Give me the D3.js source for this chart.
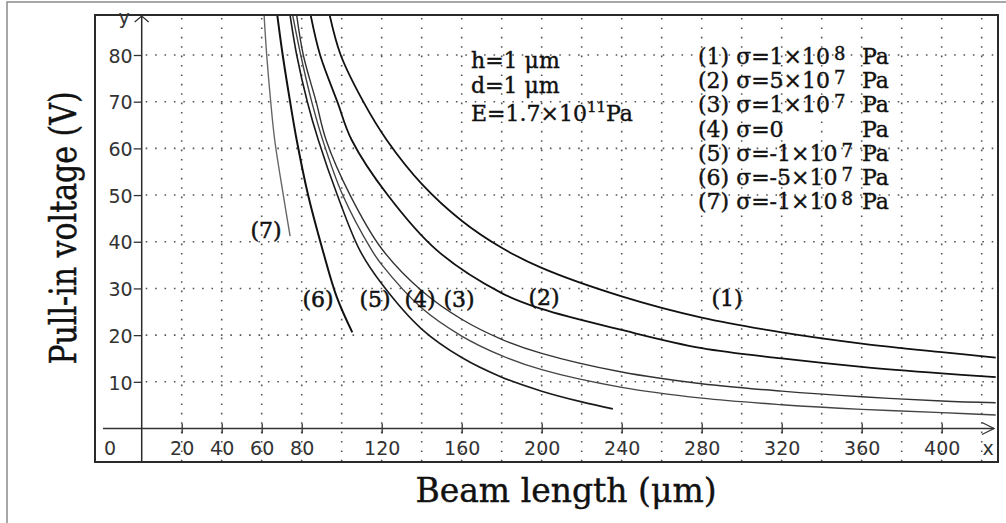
<!DOCTYPE html>
<html>
<head>
<meta charset="utf-8">
<script src="https://cdn.jsdelivr.net/npm/d3@7"></script>
<style>
  body { margin: 0; background: #fff; }
  svg { display: block; }
</style>
</head>
<body>
<div id="chart"></div>
<script>
// beam length (um) / pull-in voltage (V)
const len1 = [94, 99.5, 110.8, 122.5, 140, 160, 180, 200, 240, 280, 320, 360, 400, 427];
const volt1 = [88.5, 80, 70, 61.8, 52.4, 44.5, 38.7, 34.4, 28.3, 23.75, 20.6, 18.2, 16.35, 15.2];
const len2 = [84.5, 89.2, 97.8, 105, 123, 147.5, 180, 200, 240, 280, 320, 360, 400, 427];
const volt2 = [88.5, 80, 70, 61.8, 50, 38.2, 29, 25.6, 21.1, 17.2, 15, 13.2, 11.8, 11];
const len3 = [77.5, 80.8, 87.2, 92.2, 104.2, 120, 140, 160, 180, 200, 240, 280, 320, 360, 400, 427];
const volt3 = [88.5, 80, 70, 61.8, 50, 38.5, 29.5, 23.4, 19.1, 16.1, 12.1, 9.6, 8, 6.8, 5.9, 5.5];
const len4 = [75.5, 79.5, 85, 90.5, 100.5, 115, 120, 140, 160, 180, 200, 240, 280, 320, 360, 400, 427];
const volt4 = [88.5, 80, 70, 61.8, 50, 38.2, 35.1, 25.8, 19.8, 15.6, 12.6, 8.8, 6.5, 5.1, 4.1, 3.4, 2.9];
const len5 = [74.2, 77.5, 82.8, 88.3, 97.8, 109, 120, 140, 160, 180, 200, 220, 235.6];
const volt5 = [88.5, 80, 70, 61.8, 50, 38.2, 31, 21.3, 15.2, 11, 8, 5.7, 4.2];
const len6 = [67.8, 70.5, 74.2, 77.5, 83.2, 90.5, 97.5, 105.3];
const volt6 = [88.5, 80, 70, 61.8, 50, 38.2, 28.2, 20.6];
const len7 = [61.2, 62.5, 64.5, 66.5, 70.8, 74.2];
const volt7 = [88.5, 80, 70, 61.8, 50, 41.2];

const xTicks = [20, 40, 60, 80, 120, 160, 200, 240, 280, 320, 360, 400];
const xGrid = [20, 40, 60, 80, 100, 120, 140, 160, 180, 200, 220, 240, 260, 280, 300, 320, 340, 360, 380, 400, 420];
const yTicks = [10, 20, 30, 40, 50, 60, 70, 80];

const legendIds = ['(1)', '(2)', '(3)', '(4)', '(5)', '(6)', '(7)'];
const legendVals = ['=1×10', '=5×10', '=1×10', '=0', '=-1×10', '=-5×10', '=-1×10'];
const legendExps = ['8', '7', '7', '', '7', '7', '8'];

const width = 1006, height = 523;
const svg = d3.select('#chart').append('svg')
    .attr('width', width)
    .attr('height', height);

const x = d3.scaleLinear().domain([0, 430]).range([141.7, 1001.7]);
const y = d3.scaleLinear().domain([0, 80]).range([428.5, 55]);

const box = { left: 95, top: 15, right: 998, bottom: 462 };

// outer frame (only left/top visible)
svg.append('rect')
    .attr('x', 7).attr('y', 2).attr('width', 1020).attr('height', 540)
    .attr('fill', 'none').attr('stroke', '#8a8a8a').attr('stroke-width', 1.5);

// dotted grid
const grid = svg.append('g')
    .attr('stroke', '#555')
    .attr('stroke-width', 1.6)
    .attr('stroke-dasharray', '1.6,7.8');
grid.selectAll('.vg').data(xGrid).join('line')
    .attr('x1', d => x(d)).attr('x2', d => x(d))
    .attr('y1', box.top + 3).attr('y2', box.bottom);
grid.selectAll('.hg').data(yTicks).join('line')
    .attr('x1', x(0) + 4).attr('x2', box.right)
    .attr('y1', d => y(d)).attr('y2', d => y(d));

// plot box
svg.append('rect')
    .attr('x', box.left).attr('y', box.top)
    .attr('width', box.right - box.left).attr('height', box.bottom - box.top)
    .attr('fill', 'none').attr('stroke', '#2a2a2a').attr('stroke-width', 2);

// x axis
const gx = svg.append('g')
    .attr('transform', `translate(0,${y(0)})`)
    .call(d3.axisBottom(x).tickValues(xTicks).tickSizeOuter(0));
gx.select('.domain').remove();
gx.selectAll('.tick line').attr('y1', -5).attr('y2', 5).attr('stroke', '#333').attr('stroke-width', 1.3);
gx.selectAll('.tick text')
    .attr('y', 26.5).attr('dy', null)
    .attr('font-family', 'DejaVu Sans').attr('font-size', 19).attr('fill', '#333');

svg.append('line')
    .attr('x1', 103).attr('x2', 994).attr('y1', y(0)).attr('y2', y(0))
    .attr('stroke', '#333').attr('stroke-width', 1.5);
svg.append('path')
    .attr('d', `M982,${y(0) - 6}L994,${y(0)}L982,${y(0) + 6}`)
    .attr('fill', 'none').attr('stroke', '#333').attr('stroke-width', 1.3);

// y axis
const gy = svg.append('g')
    .attr('transform', `translate(${x(0)},0)`)
    .call(d3.axisLeft(y).tickValues(yTicks).tickSize(8).tickSizeOuter(0));
gy.select('.domain').remove();
gy.selectAll('.tick line').attr('stroke', '#333').attr('stroke-width', 1.3);
gy.selectAll('.tick text')
    .attr('x', -9).attr('dy', '0.38em')
    .attr('font-family', 'DejaVu Sans').attr('font-size', 19).attr('fill', '#333');

svg.append('line')
    .attr('x1', x(0)).attr('x2', x(0)).attr('y1', box.bottom).attr('y2', box.top)
    .attr('stroke', '#2a2a2a').attr('stroke-width', 1.5);
svg.append('path')
    .attr('d', `M${x(0) - 7},22L${x(0)},16L${x(0) + 7},22`)
    .attr('fill', 'none').attr('stroke', '#333').attr('stroke-width', 1.3);

const sans = svg.append('g')
    .attr('font-family', 'DejaVu Sans').attr('font-size', 19).attr('fill', '#333');
sans.append('text').attr('x', 110).attr('y', 455).attr('text-anchor', 'middle').text('0');
sans.append('text').attr('x', 988).attr('y', 455).attr('text-anchor', 'middle').text('x');
sans.append('text').attr('x', 124).attr('y', 24).attr('text-anchor', 'middle').text('y');

// curves
const defs = svg.append('defs');
defs.append('clipPath').attr('id', 'plotclip').append('rect')
    .attr('x', x(0)).attr('y', box.top + 1)
    .attr('width', box.right - x(0) - 1).attr('height', box.bottom - box.top - 2);

const series = [
    { xs: len1, ys: volt1, color: '#111', w: 1.8 },
    { xs: len2, ys: volt2, color: '#111', w: 1.8 },
    { xs: len3, ys: volt3, color: '#333', w: 1.4 },
    { xs: len4, ys: volt4, color: '#444', w: 1.4 },
    { xs: len5, ys: volt5, color: '#1a1a1a', w: 1.6 },
    { xs: len6, ys: volt6, color: '#111', w: 2 },
    { xs: len7, ys: volt7, color: '#666', w: 1.4 }
];

const line = d3.line()
    .x(d => x(d[0]))
    .y(d => y(d[1]))
    .curve(d3.curveCatmullRom.alpha(0.5));

svg.append('g').attr('clip-path', 'url(#plotclip)')
    .selectAll('path').data(series).join('path')
    .attr('d', s => line(s.xs.map((v, i) => [v, s.ys[i]])))
    .attr('fill', 'none')
    .attr('stroke', s => s.color)
    .attr('stroke-width', s => s.w);

// curve labels
const serif = 'DejaVu Serif';
const curveLabels = [
    { t: '(7)', x: 266, y: 238 },
    { t: '(6)', x: 318, y: 307 },
    { t: '(5)', x: 375, y: 307 },
    { t: '(4)', x: 420, y: 307 },
    { t: '(3)', x: 459, y: 307 },
    { t: '(2)', x: 544, y: 305 },
    { t: '(1)', x: 727, y: 306 }
];
svg.append('g').attr('font-family', serif).attr('font-size', 22).attr('fill', '#111')
    .attr('stroke', '#111').attr('stroke-width', 0.5)
    .selectAll('text').data(curveLabels).join('text')
    .attr('x', d => d.x).attr('y', d => d.y)
    .attr('text-anchor', 'middle')
    .text(d => d.t);

// parameter block
const par = svg.append('g').attr('font-family', serif).attr('font-size', 22).attr('fill', '#111')
    .attr('stroke', '#111').attr('stroke-width', 0.4);
par.append('text').attr('x', 471).attr('y', 68).text('h=1 μm');
par.append('text').attr('x', 471).attr('y', 93).text('d=1 μm');
const eText = par.append('text').attr('x', 471).attr('y', 121);
eText.append('tspan').text('E=1.7×10');
eText.append('tspan').attr('dy', -9).attr('font-size', 15).text('11');
eText.append('tspan').attr('dy', 9).text('Pa');

// legend
const leg = svg.append('g').attr('font-family', serif).attr('font-size', 22).attr('fill', '#111')
    .attr('stroke', '#111').attr('stroke-width', 0.4);
legendIds.forEach((id, i) => {
    const t = leg.append('text').attr('x', 698).attr('y', 64 + i * 24.2);
    t.append('tspan').text(id + ' σ' + legendVals[i]);
    if (legendExps[i]) {
        t.append('tspan').attr('dx', 4).attr('dy', -4).attr('font-size', 18).text(legendExps[i]);
        t.append('tspan').attr('x', 862).attr('dy', 4).text('Pa');
    } else {
        t.append('tspan').attr('x', 862).text('Pa');
    }
});

// axis titles
svg.append('text')
    .attr('x', 566).attr('y', 502)
    .attr('text-anchor', 'middle')
    .attr('font-family', serif).attr('font-size', 33).attr('fill', '#111')
    .attr('stroke', '#111').attr('stroke-width', 0.4)
    .text('Beam length (μm)');
svg.append('text')
    .attr('transform', 'translate(76,228) rotate(-90) scale(1,1.25)')
    .attr('text-anchor', 'middle')
    .attr('font-family', serif).attr('font-size', 30).attr('fill', '#111')
    .attr('stroke', '#111').attr('stroke-width', 0.4)
    .text('Pull-in voltage (V)');
</script>
</body>
</html>
